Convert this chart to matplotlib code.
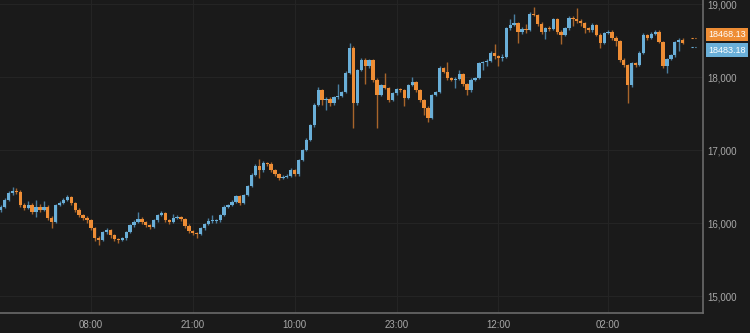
import numpy as np
import pandas as pd
import matplotlib
matplotlib.use("Agg")
import matplotlib.pyplot as plt
import matplotlib.dates as mdates

# 30 minute candles
start = "2016-03-01 20:30"
closes = [
    16220, 16315, 16410, 16440, 16425, 16245, 16205, 16245, 16150, 16220,
    16180, 16220, 16070, 16015, 16245, 16275, 16315, 16355, 16275, 16180,
    16110, 16070, 16040, 15930, 15795, 15765, 15875, 15905, 15830, 15780,
    15765, 15790, 15875, 15970, 16015, 16055, 16015, 15970, 15945, 16040,
    16110, 16135, 16040, 16015, 16070, 16080, 16055, 15960, 15890, 15860,
    15850, 15930, 15985, 16025, 16025, 16040, 16110, 16220, 16245, 16290,
    16370, 16275, 16385, 16505, 16660, 16780, 16725, 16820, 16810, 16725,
    16670, 16615, 16630, 16645, 16725, 16670, 16865, 17000, 17135, 17340,
    17615, 17820, 17685, 17700, 17645, 17725, 17740, 17795, 18055, 18400,
    17645, 18095, 18235, 18150, 18235, 17960, 17755, 17890, 17850, 17685,
    17780, 17835, 17820, 17710, 17890, 17930, 17820, 17685, 17575, 17440,
    17755, 17795, 18125, 18070, 17985, 17960, 17975, 18040, 17905, 17820,
    17960, 17985, 18190, 18205, 18220, 18330, 18290, 18260, 18275, 18670,
    18710, 18740, 18615, 18660, 18645, 18865, 18850, 18725, 18615, 18670,
    18660, 18795, 18615, 18575, 18670, 18810, 18795, 18770, 18740, 18670,
    18645, 18715, 18580, 18465, 18600, 18615, 18535, 18495, 18235, 18165,
    17890, 18190, 18165, 18330, 18575, 18535, 18590, 18615, 18480, 18150,
    18245, 18300, 18480, 18505, 18468,
]
highs = [
    16250, 16340, 16440, 16490, 16480, 16450, 16280, 16300, 16270, 16320,
    16260, 16300, 16240, 16100, 16260, 16300, 16340, 16380, 16370, 16290,
    16200, 16130, 16090, 16060, 15950, 15820, 15890, 15930, 15920, 15850,
    15800, 15810, 15890, 15990, 16040, 16150, 16080, 16030, 15990, 16060,
    16130, 16170, 16150, 16060, 16120, 16110, 16100, 16070, 15980, 15910,
    15880, 15950, 16000, 16070, 16110, 16060, 16130, 16240, 16260, 16310,
    16390, 16390, 16400, 16520, 16680, 16810, 16880, 16850, 16840, 16830,
    16740, 16690, 16660, 16670, 16760, 16740, 16880, 17020, 17160, 17360,
    17640, 17870, 17840, 17720, 17720, 17740, 17900, 17810, 18080, 18460,
    18420, 18110, 18260, 18260, 18250, 18250, 17980, 17910, 18060, 17870,
    17800, 17850, 17850, 17840, 17910, 18000, 17950, 17840, 17700, 17600,
    17770, 17810, 18150, 18140, 18200, 18000, 18000, 18100, 18060, 17920,
    17980, 18000, 18210, 18220, 18240, 18350, 18450, 18300, 18310, 18690,
    18800, 18860, 18760, 18680, 18720, 18890, 18960, 18870, 18750, 18690,
    18700, 18810, 18810, 18640, 18690, 18840, 18830, 18940, 18790, 18760,
    18690, 18740, 18730, 18600, 18620, 18640, 18640, 18560, 18510, 18260,
    18180, 18210, 18210, 18350, 18600, 18590, 18610, 18640, 18650, 18500,
    18260, 18320, 18500, 18530, 18530,
]
lows = [
    16150, 16200, 16300, 16390, 16400, 16220, 16180, 16190, 16120, 16080,
    16150, 16160, 16040, 15930, 16000, 16230, 16260, 16300, 16250, 16150,
    16080, 16040, 16000, 15900, 15760, 15700, 15750, 15850, 15800, 15760,
    15725, 15750, 15770, 15860, 15950, 16000, 15990, 15940, 15920, 15930,
    16020, 16100, 16020, 15990, 16000, 16050, 16030, 15930, 15860, 15830,
    15800, 15830, 15910, 15970, 16000, 16000, 16020, 16100, 16200, 16230,
    16270, 16250, 16260, 16370, 16490, 16640, 16620, 16700, 16780, 16700,
    16650, 16590, 16600, 16610, 16630, 16640, 16650, 16850, 16980, 17120,
    17320, 17600, 17620, 17550, 17600, 17620, 17700, 17720, 17780, 18040,
    17300, 17620, 18080, 17900, 18130, 17930, 17300, 17740, 17830, 17660,
    17670, 17760, 17800, 17600, 17700, 17880, 17800, 17660, 17480, 17380,
    17420, 17740, 17780, 18050, 17960, 17940, 17850, 17960, 17880, 17750,
    17800, 17950, 17970, 18100, 18150, 18200, 18240, 18150, 18220, 18260,
    18650, 18700, 18470, 18590, 18600, 18630, 18830, 18700, 18590, 18520,
    18630, 18640, 18590, 18450, 18560, 18650, 18700, 18740, 18700, 18600,
    18620, 18620, 18560, 18400, 18450, 18590, 18510, 18420, 18200, 18140,
    17645, 17870, 18140, 18150, 18310, 18510, 18520, 18580, 18460, 18120,
    18050, 18230, 18280, 18350, 18450,
]
first_open = 16180
last_orange = 18468.13
last_blue = 18483.18

tick_times = ["2016-03-02 08:00", "2016-03-02 21:00", "2016-03-03 10:00",
              "2016-03-03 23:00", "2016-03-04 12:00", "2016-03-05 02:00"]
yticks = [15000, 16000, 17000, 18000, 19000]

bg = "#1a1a1a"
up_col = "#6aafd8"
dn_col = "#ee8d35"
up_wick = "#4a7fa0"
dn_wick = "#a8652b"

times = pd.date_range(start, periods=len(closes), freq="30min")
x = mdates.date2num(times.to_pydatetime())
c = np.array(closes, dtype=float)
o = np.concatenate([[first_open], c[:-1]])
h = np.array(highs, dtype=float)
l = np.array(lows, dtype=float)
up = c >= o

plt.rcParams["font.family"] = ["Liberation Sans", "DejaVu Sans"]

fig = plt.figure(figsize=(7.5, 3.33), dpi=100, facecolor=bg)
ax = fig.add_axes([0, 0.06, 0.9373, 0.94], facecolor=bg)

step = x[1] - x[0]
w = step * 0.85
wick_cols = np.where(up, up_wick, dn_wick)
body_cols = np.where(up, up_col, dn_col)
ax.vlines(x, l, h, colors=wick_cols, linewidth=1.0, zorder=2)
body_h = np.maximum(np.abs(c - o), 14)
ax.bar(x, body_h, bottom=np.minimum(o, c), width=w, color=body_cols,
       linewidth=0, zorder=3)

# current-candle markers and price labels
x_end = x[-1] + step * 2.2
for val, col, dy in [(last_orange, dn_col, 6), (last_blue, up_col, -6)]:
    ax.plot([x_end, x_end + step * 1.3], [val + dy * 12, val + dy * 12],
            color=col, linestyle=(0, (2, 1.5)), linewidth=0.8, zorder=3)
    ax.annotate("%.2f" % val, xy=(1, val), xycoords=("axes fraction", "data"),
                xytext=(4, dy), textcoords="offset points", ha="left",
                va="center", color="white", fontsize=6.5,
                bbox=dict(boxstyle="square,pad=0.25", fc=col, ec="none"),
                annotation_clip=False)

ax.set_xlim(x[0] - step * 0.2, x[0] + step * 179.2)
ax.set_ylim(14767, 19055)

tx = mdates.date2num(pd.to_datetime(tick_times).to_pydatetime())
ax.set_xticks(tx)
ax.set_xticklabels([t[-5:] for t in tick_times])
ax.set_yticks(yticks)
ax.set_yticklabels(["{:,}".format(v) for v in yticks])
ax.yaxis.tick_right()

ax.tick_params(axis="both", length=0, colors="#a8a8a8", labelsize=7)
ax.tick_params(axis="x", pad=5)
ax.tick_params(axis="y", pad=3)
ax.grid(True, color="#242424", linewidth=0.8)
ax.set_axisbelow(True)

for side in ["top", "left"]:
    ax.spines[side].set_visible(False)
for side in ["right", "bottom"]:
    ax.spines[side].set_color("#6a6a6a")
    ax.spines[side].set_linewidth(1.2)

fig.savefig("out.png", dpi=100, facecolor=bg)
